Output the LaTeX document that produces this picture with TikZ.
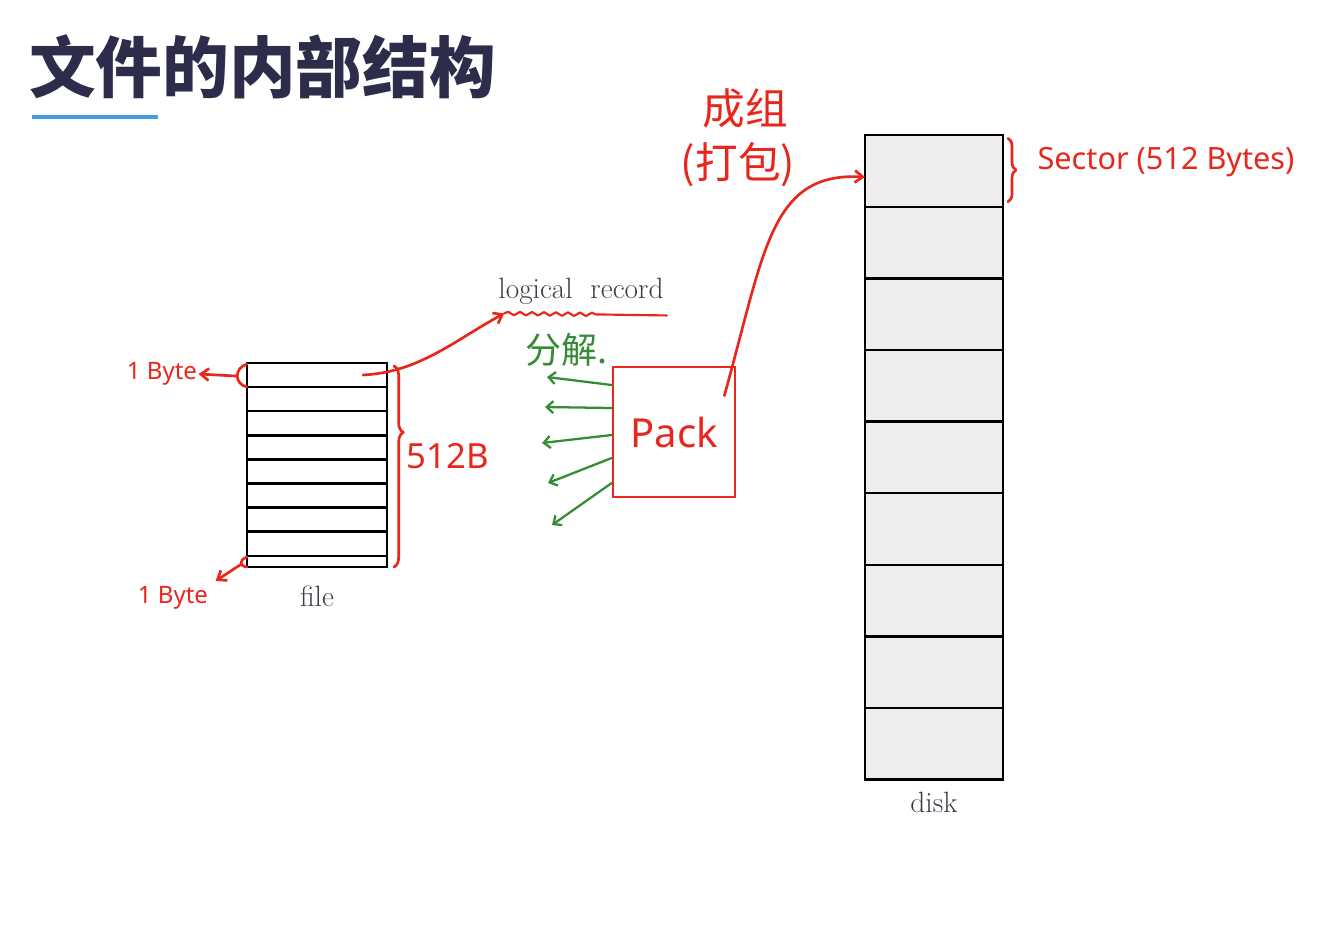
\documentclass[tikz,border=0pt]{standalone}
\usepackage{fontspec}
\newfontfamily\cjk{Noto Sans CJK SC}
\newfontfamily\hand{Noto Sans}
\usetikzlibrary{arrows.meta, positioning, decorations.pathreplacing, decorations.pathmorphing, calc}
\definecolor{inkred}{RGB}{232,38,28}
\definecolor{inkgreen}{RGB}{52,140,52}
\definecolor{titlec}{RGB}{45,45,75}
\definecolor{linec}{RGB}{70,155,225}
\definecolor{textc}{RGB}{60,60,72}
\definecolor{sectorc}{RGB}{238,236,238}

\begin{document}
\begin{tikzpicture}[x=0.75pt,y=-0.75pt,
	redpen/.style={inkred, line width=2pt, line cap=round, line join=round},
	greenpen/.style={inkgreen, line width=1.7pt, line cap=round},
	redtip/.style={-{Straight Barb[length=6pt,width=9pt]}},
	greentip/.style={-{Straight Barb[length=5pt,width=9pt]}},
	printed/.style={font=\fontsize{22}{26}\selectfont, text=textc, inner sep=0pt},
	handred/.style={font=\hand\fontsize{#1}{#1}\selectfont, text=inkred, inner sep=1pt},
	handred/.default=20,
	sectorbox/.style={draw, line width=1.9pt, fill=sectorc, outer sep=0pt,
		minimum width=103.5pt, minimum height=53.7pt},
	filebox/.style={draw, line width=1.9pt, outer sep=0pt,
		minimum width=105pt, minimum height=153pt}]
	% page
	\fill[white] (0,0) rectangle (1337,951);
	\useasboundingbox (0,0) rectangle (1337,951);
	% title
	\node[anchor=west, inner sep=0pt, text=titlec, font=\cjk\bfseries\fontsize{50}{54}\selectfont] (title) at (29,67) {文件的内部结构};
	\draw[linec, line width=2.6pt] (32,117) -- (158,117);

	% file: 8 records and a thin last one
	\node[filebox] (file) at (317,465) {};
	\foreach \i in {1,...,8}
		\draw[line width=1.9pt] ($(file.north west)+(0,24.1*\i)$) -- ($(file.north east)+(0,24.1*\i)$);
	\node[printed, below=14pt of file] (filelab) {file};

	% disk: 9 sectors
	\node[sectorbox] (s1) at (934,171) {};
	\foreach \i [remember=\i as \prev (initially 1)] in {2,...,9}
		\node[sectorbox, below=0pt of s\prev] (s\i) {};
	\node[printed, below=9pt of s9] (disklab) {disk};

	% logical record
	\node[printed] (logrec) at (581,291) {logical\ \ record};
	\coordinate (ulstart) at ($(logrec.south west)+(6,9)$);
	\draw[redpen, line width=1.6pt, decorate, decoration={snake, amplitude=1.3pt, segment length=9pt}]
		(ulstart) -- ($(logrec.south west)+(100,10)$);
	\draw[redpen, line width=1.6pt] ($(logrec.south west)+(100,10)$) -- ($(logrec.south east)+(3,11)$);
	\coordinate (rec1) at ($(file.north east)+(-24,12)$);
	\draw[redpen, redtip] (rec1) .. controls (420,372) and (455,340) .. (ulstart);

	% 1 Byte marks
	\node[handred=18] (byteA) at (162,374) {1 Byte};
	\node[handred=18] (byteB) at (173,598) {1 Byte};
	\draw[redpen] ($(file.north west)+(0,1)$) .. controls (234,368) and (234,384) .. ($(file.north west)+(0,24)$);
	\draw[redpen, redtip] (236,376) -- (byteA.east);
	\draw[redpen] ($(file.south west)+(0,-10)$) .. controls (239,560) and (239,566) .. ($(file.south west)+(0,0)$);
	\draw[redpen, redtip] (240,565) -- ($(byteB.north east)+(6,-4)$);

	% 512B brace
	\draw[redpen, decorate, decoration={brace, amplitude=7pt, aspect=0.33}]
		($(file.north east)+(7,3)$) -- ($(file.south east)+(7,0)$);
	\node[handred=26] (size) at (448,456) {512B};

	% pack
	\node[draw=inkred, line width=2pt, minimum width=91.5pt, minimum height=97.5pt,
		handred=30] (pack) at (674,432) {Pack};
	\node[text=inkgreen, font=\cjk\fontsize{27}{27}\selectfont, inner sep=0pt] (split) at (566,350) {分解.};
	\foreach \ys/\xe/\ye [count=\i] in {385/547/377, 408/545/407, 435/542/443, 458/548/483, 483/552/525}
	{
		\coordinate (part\i) at (\xe,\ye);
		\draw[greenpen, greentip] (pack.west |- 0,\ys) -- (part\i);
	}
	\coordinate (packout) at ($(pack.north east)+(-12,30)$);
	\draw[redpen, redtip] (packout) .. controls (765,250) and (770,172) .. ($(s1.west)+(0,6)$);
	\node[text=inkred, font=\cjk\fontsize{32}{32}\selectfont, inner sep=0pt] (group) at (745,108) {成组};
	\node[text=inkred, font=\cjk\fontsize{32}{32}\selectfont, inner sep=0pt] (packcn) at (738,165) {(打包)};

	% sector brace
	\draw[redpen, decorate, decoration={brace, amplitude=6pt}]
		($(s1.north east)+(5,3)$) -- ($(s1.south east)+(5,-5)$);
	\node[handred=23, anchor=west] (sector) at (1036,162) {Sector (512 Bytes)};
\end{tikzpicture}
\end{document}
